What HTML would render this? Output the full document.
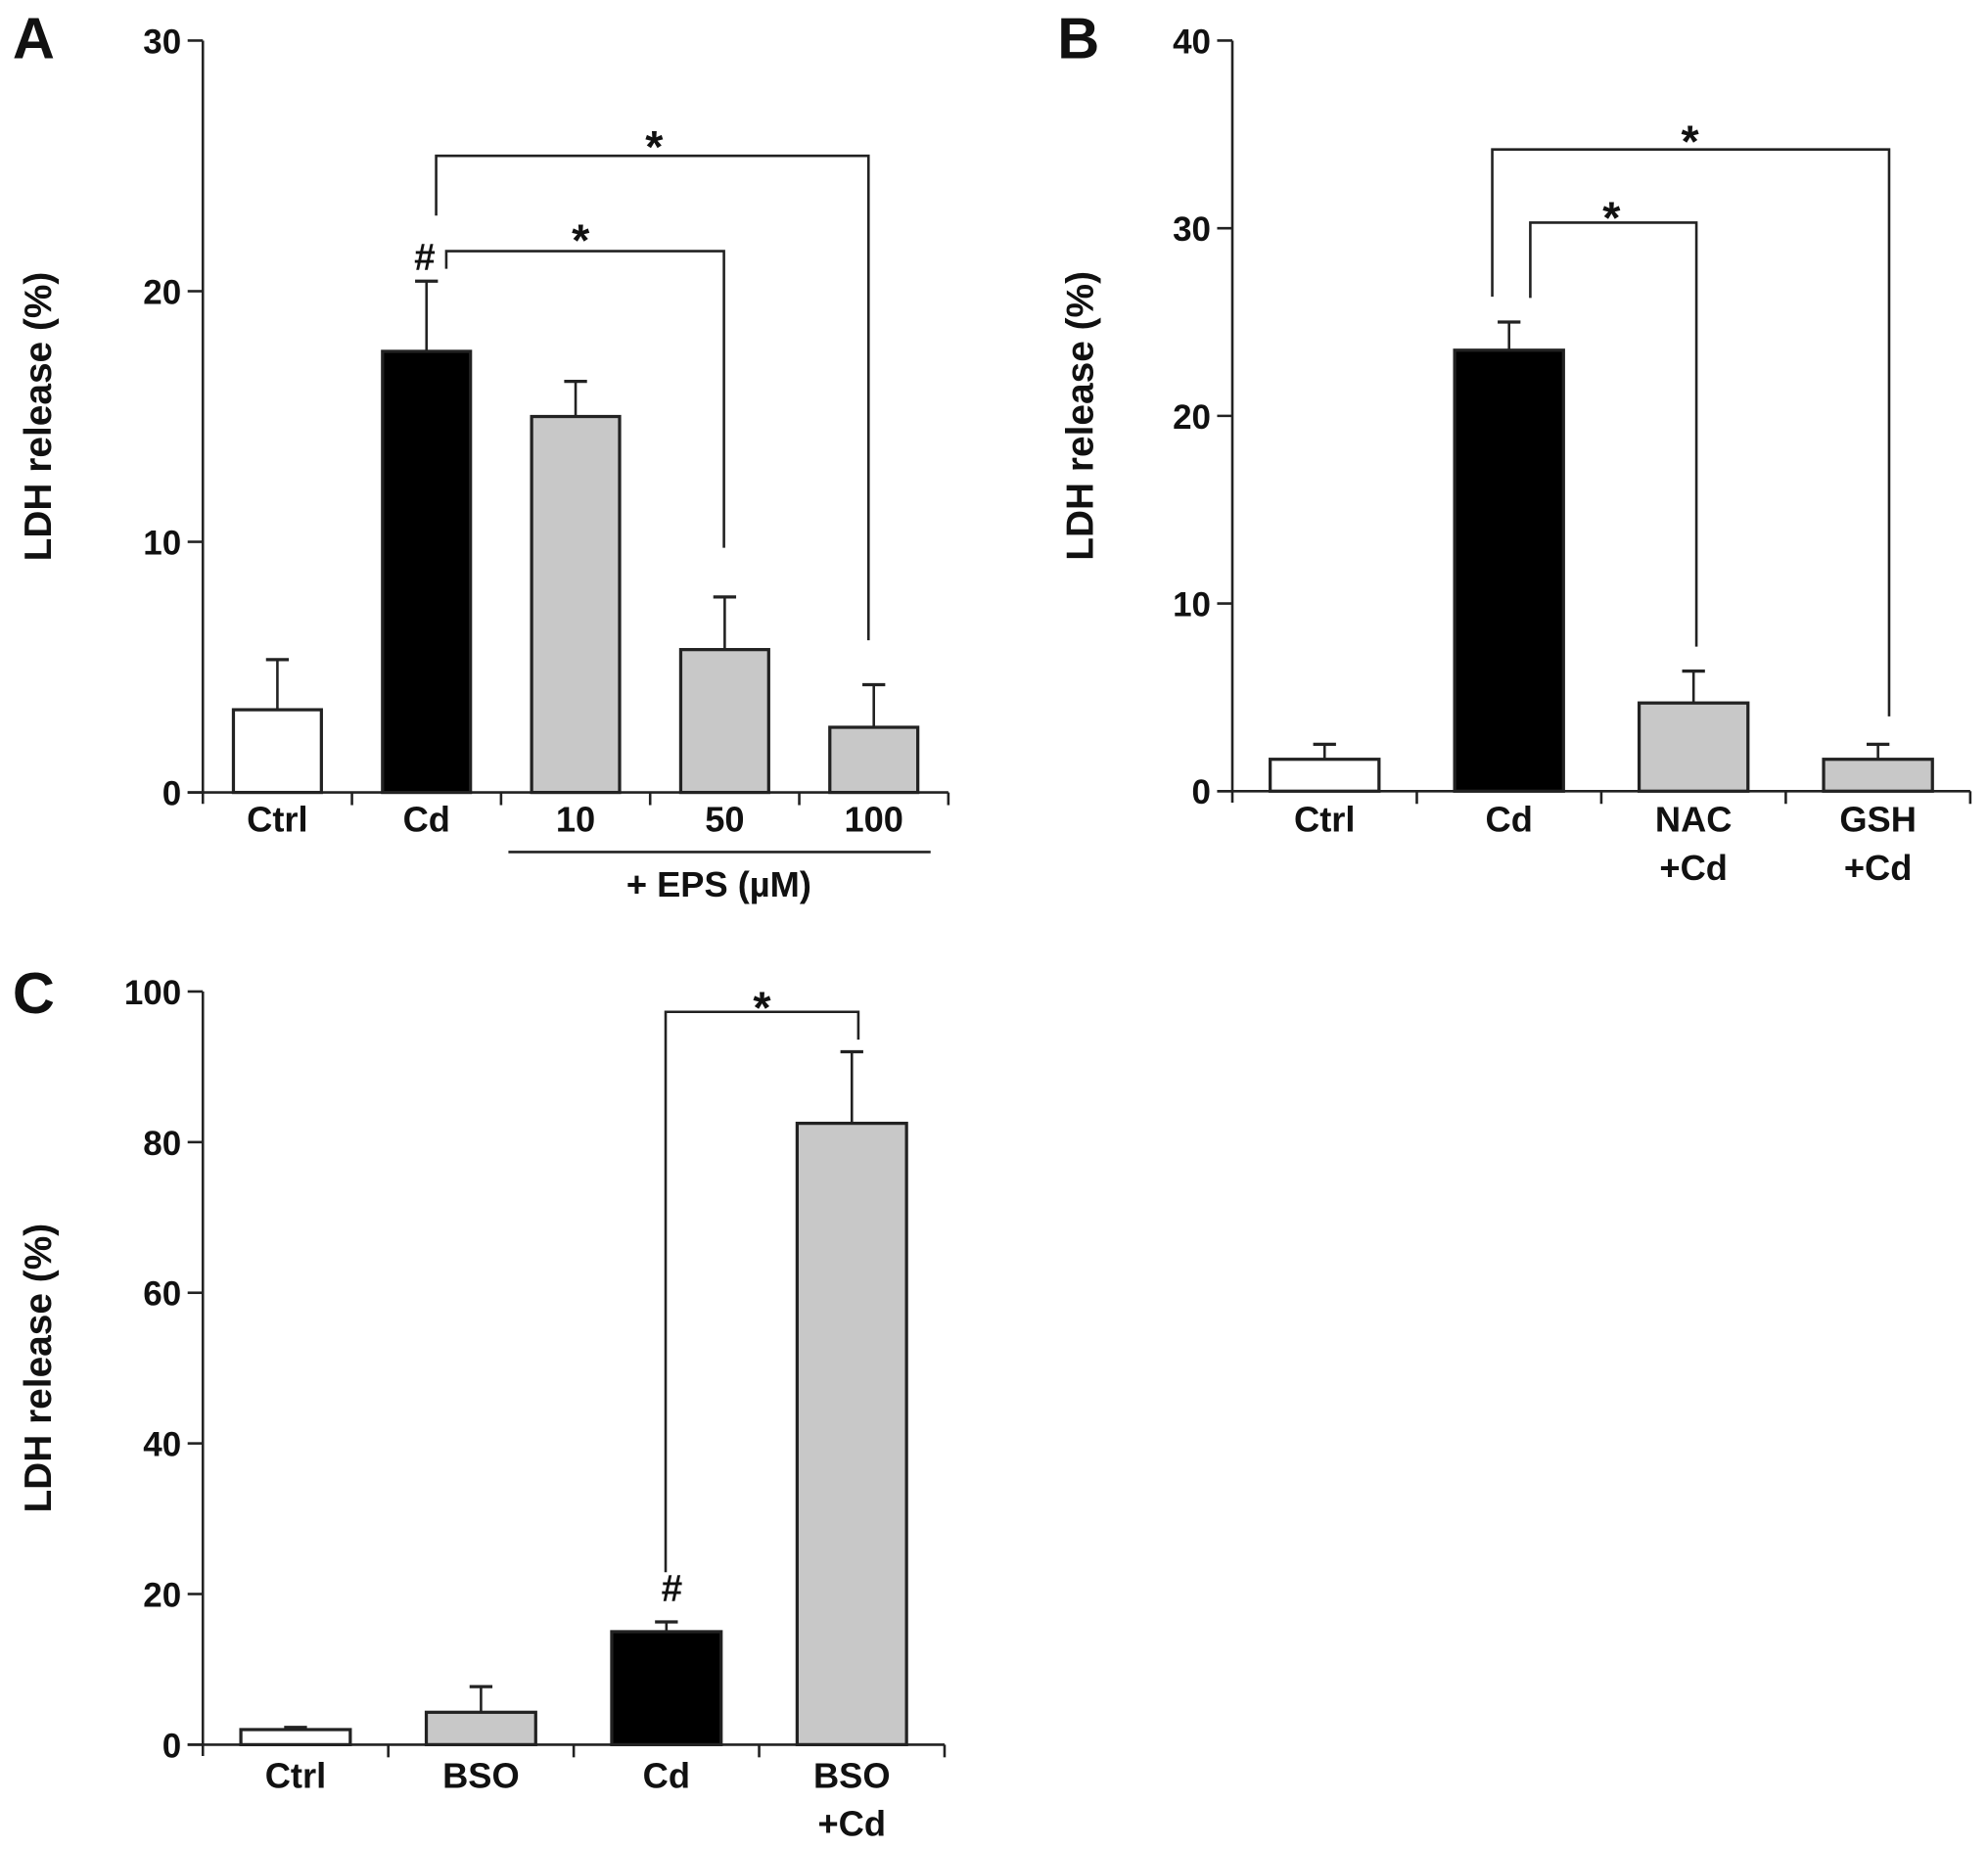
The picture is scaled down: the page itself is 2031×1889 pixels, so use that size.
<!DOCTYPE html>
<html><head><meta charset="utf-8"><style>
html,body{margin:0;padding:0;background:#fff}
svg{display:block}
text{font-family:"Liberation Sans",Arial,sans-serif;font-weight:bold;fill:#111}
</style></head><body>
<svg id="fig" width="2031" height="1889" viewBox="0 0 1568 1458.3" preserveAspectRatio="none" xmlns="http://www.w3.org/2000/svg"></svg>
<script>
// Panel A data
const catsA = [["Ctrl"],["Cd"],["10"],["50"],["100"]];
const valsA = [3.3, 17.6, 15.0, 5.7, 2.6];
const errsA = [5.3, 20.4, 16.4, 7.8, 4.3];
const fillsA = ["#fff","#000","#c8c8c8","#c8c8c8","#c8c8c8"];
const ticksA = [0,10,20,30];
// Panel B data
const catsB = [["Ctrl"],["Cd"],["NAC","+Cd"],["GSH","+Cd"]];
const valsB = [1.7, 23.5, 4.7, 1.7];
const errsB = [2.5, 25.0, 6.4, 2.5];
const fillsB = ["#fff","#000","#c8c8c8","#c8c8c8"];
const ticksB = [0,10,20,30,40];
// Panel C data
const catsC = [["Ctrl"],["BSO"],["Cd"],["BSO","+Cd"]];
const valsC = [2.0, 4.3, 15.0, 82.5];
const errsC = [2.3, 7.7, 16.3, 92.0];
const fillsC = ["#fff","#c8c8c8","#000","#c8c8c8"];
const ticksC = [0,20,40,60,80,100];

const NS = "http://www.w3.org/2000/svg";
const svg = document.getElementById('fig');
function mk(tag, attrs, parent, txt){
  const e = document.createElementNS(NS, tag);
  for (const k in attrs) e.setAttribute(k, attrs[k]);
  if (txt !== undefined) e.textContent = txt;
  (parent||svg).appendChild(e);
  return e;
}

function panel(id, letter, lx, ly, titleX, ax, x1, y0, yTop, vmax, cats, vals, errs, fills, ticks, bwf, labelY){
  const g = mk('g', {});
  
  
  const y = v => y0 - (v / vmax) * (y0 - yTop);
  const L = mk('text', {x: lx, y: ly, 'font-size': 46}, g, letter);
  
  
  const ya = mk('line', {x1: ax, y1: y0 + 9, x2: ax, y2: yTop, stroke: '#222', 'stroke-width': 2}, g);
  
  
  const xa = mk('line', {x1: ax - 12, y1: y0, x2: x1, y2: y0, stroke: '#222', 'stroke-width': 2}, g);
  
  
  ticks.forEach(t => {
    mk('line', {x1: ax - 12, y1: y(t), x2: ax, y2: y(t), stroke: '#222', 'stroke-width': 2}, g);
    const tl = mk('text', {x: ax - 17, y: y(t) + 10, 'font-size': 27, 'text-anchor': 'end'}, g, String(t));
    
    
  });
  const n = cats.length;
  const w = (x1 - ax) / n;
  for (let i = 0; i < n; i++) {
    const cx = ax + w * (i + 0.5);
    mk('line', {x1: ax + w * (i + 1), y1: y0, x2: ax + w * (i + 1), y2: y0 + 10, stroke: '#222', 'stroke-width': 2}, g);
    const bw = w * bwf;
    mk('line', {x1: cx, y1: y(vals[i]), x2: cx, y2: y(errs[i]), stroke: '#222', 'stroke-width': 2}, g);
    mk('line', {x1: cx - 9, y1: y(errs[i]), x2: cx + 9, y2: y(errs[i]), stroke: '#222', 'stroke-width': 2.5}, g);
    const b = mk('rect', {x: cx - bw / 2, y: y(vals[i]), width: bw, height: y0 - y(vals[i]), fill: fills[i], stroke: '#222', 'stroke-width': 2.5}, g);
    
    
    cats[i].forEach((s, j) => {
      const t = mk('text', {x: cx, y: labelY + j * 38, 'font-size': 28, 'text-anchor': 'middle'}, g, s);
      
      
    });
  }
  const yl = mk('text', {x: 0, y: 0, 'font-size': 30, 'text-anchor': 'middle', transform: 'translate(' + titleX + ',' + ((y0 + yTop) / 2) + ') rotate(-90)'}, g, 'LDH release (%)');
  
  
  return {g, y};
}

function bracket(g, xa, ya, xb, yb, top, name){
  const p = mk('path', {d: 'M' + xa + ',' + ya + ' V' + top + ' H' + xb + ' V' + yb, fill: 'none', stroke: '#222', 'stroke-width': 2}, g);
  
  
}
function mark(g, x, yy, s, name, fs){
  const t = mk('text', {x: x, y: yy, 'font-size': fs || 36, 'text-anchor': 'middle'}, g, s);
  
  
}

// Panel A
const A = panel('a', 'A', 10, 46, 40, 160, 748, 625, 32, 30, catsA, valsA, errsA, fillsA, ticksA, 0.59, 656);
bracket(A.g, 344, 170, 685, 505, A.y(25.4), 'bracket-cd-vs-100');
bracket(A.g, 352, 212, 571, 432, A.y(21.6), 'bracket-cd-vs-50');
mark(A.g, 516, 128, '*', 'significance-star');
mark(A.g, 458, 202, '*', 'significance-star');
mark(A.g, 335, 213, '#', 'significance-hash', 30);
const ul = mk('line', {x1: 401, y1: 672, x2: 734, y2: 672, stroke: '#222', 'stroke-width': 2}, A.g);


mark(A.g, 567, 707, '+ EPS (\u00b5M)', 'eps-group-label', 28);

// Panel B
const B = panel('b', 'B', 834, 46, 862, 972, 1554, 624, 32, 40, catsB, valsB, errsB, fillsB, ticksB, 0.59, 656);
bracket(B.g, 1177, 234, 1490, 565, B.y(34.2), 'bracket-cd-vs-gsh');
bracket(B.g, 1207, 235, 1338, 510, B.y(30.3), 'bracket-cd-vs-nac');
mark(B.g, 1333, 124, '*', 'significance-star');
mark(B.g, 1271, 184, '*', 'significance-star');

// Panel C
const C = panel('c', 'C', 10, 799, 40, 160, 745, 1376, 782, 100, catsC, valsC, errsC, fillsC, ticksC, 0.59, 1410);
bracket(C.g, 525, 1240, 677, 820, C.y(97.3), 'bracket-cd-vs-bso-cd');
mark(C.g, 601, 807, '*', 'significance-star');
mark(C.g, 530, 1263, '#', 'significance-hash', 30);
</script>
</body></html>
